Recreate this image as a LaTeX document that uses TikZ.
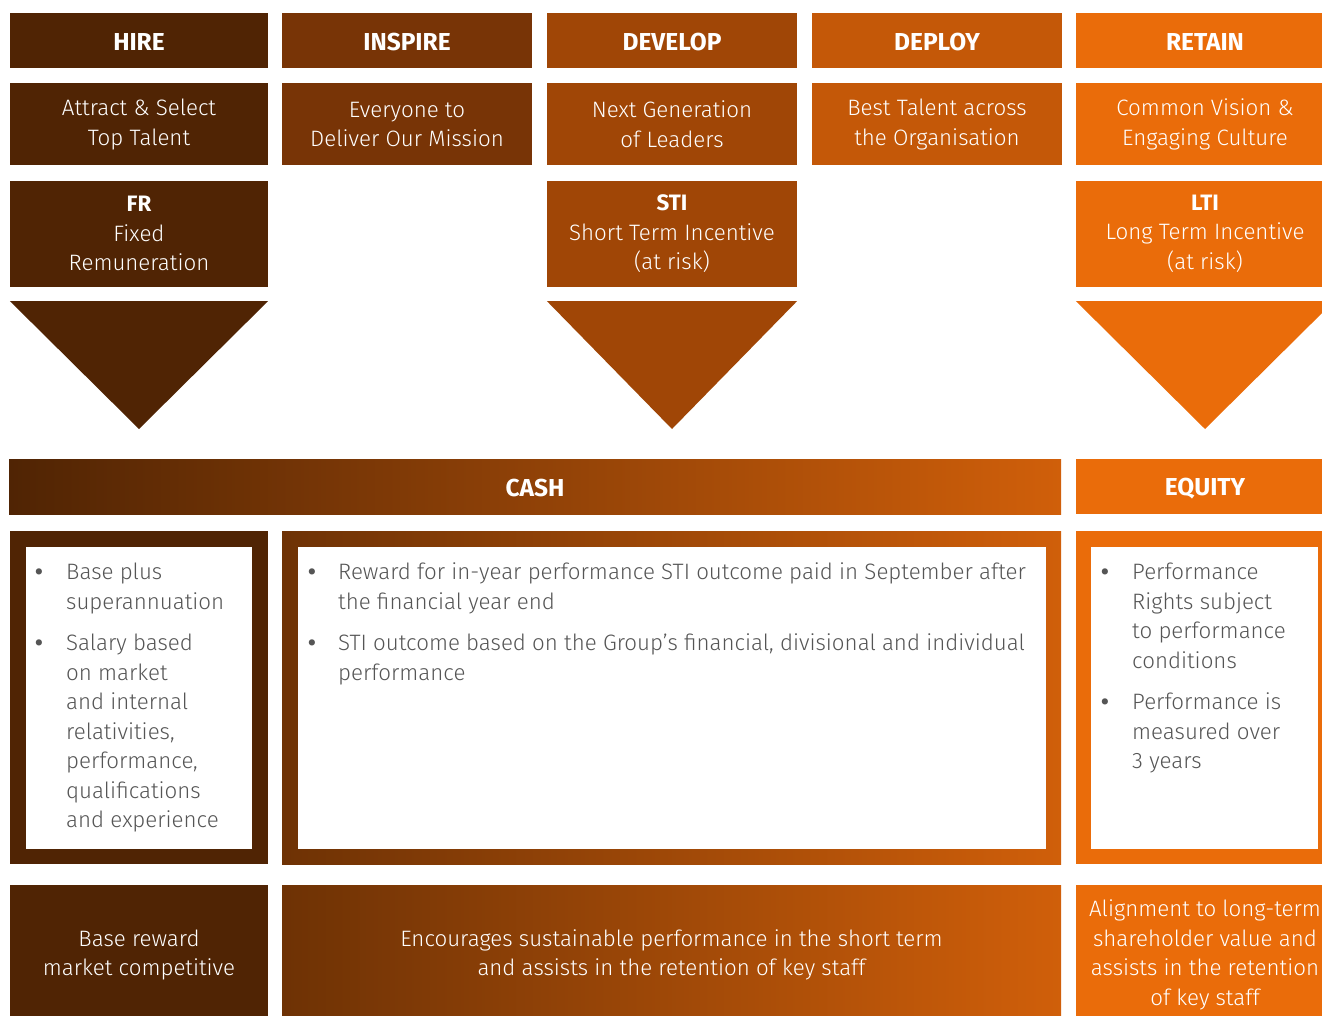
\documentclass[tikz,border=0pt]{standalone}
\usepackage{fontspec}
\setmainfont{Fira Sans}[UprightFont={* Light}, BoldFont={* Bold}]
\usetikzlibrary{positioning}

\definecolor{hire}{RGB}{80,36,4}
\definecolor{inspire}{RGB}{120,52,6}
\definecolor{develop}{RGB}{160,70,6}
\definecolor{deploy}{RGB}{196,88,8}
\definecolor{retain}{RGB}{234,108,10}
\definecolor{cashend}{RGB}{208,95,10}
\definecolor{framestart}{RGB}{110,50,5}
\definecolor{bodygray}{RGB}{85,85,85}

\newcommand{\bodyfont}{\fontsize{22.3}{29.5}\selectfont}
\newcommand{\dotmark}{\textbf{\textbullet}}

\begin{document}
\begin{tikzpicture}[x=1pt, y=-1pt,
	every node/.style={text=white, inner sep=0pt},
	head/.style={font=\fontsize{24.5}{26}\selectfont\bfseries, minimum height=55pt, text height=21pt},
	aim/.style={font=\bodyfont, align=center, minimum height=82pt},
	plan/.style={font=\bodyfont, align=center, minimum height=106pt},
	frame/.style={minimum height=333pt},
	inner/.style={fill=white, minimum height=302pt},
	bullets/.style={anchor=north west, text=bodygray, font=\bodyfont},
	note/.style={font=\bodyfont, align=center, minimum height=140pt}]

	\useasboundingbox (0,0) rectangle (1322,1016);

	% header row
	\foreach \l/\c/\x/\w [count=\i] in {HIRE/hire/139/258, INSPIRE/inspire/407/250, DEVELOP/develop/672/250, DEPLOY/deploy/937/250, RETAIN/retain/1205/258}
		\node [head, fill=\c, minimum width=\w pt] (head-\i) at (\x,40.5) {\l};

	% aims row
	\foreach \l/\c/\w [count=\i] in {{Attract \& Select\\Top Talent}/hire/258, {Everyone to\\Deliver Our Mission}/inspire/250, {Next Generation\\of Leaders}/develop/250, {Best Talent across\\the Organisation}/deploy/250, {Common Vision \&\\Engaging Culture}/retain/258}
		\node [aim, fill=\c, minimum width=\w pt, below=15pt of head-\i] (aim-\i) {\l};

	% reward elements
	\node [plan, fill=hire, minimum width=258pt, below=15pt of aim-1] (plan-1) {\textbf{FR}\\Fixed\\Remuneration};
	\node [plan, fill=develop, minimum width=250pt, below=15pt of aim-3] (plan-3) {\textbf{STI}\\Short Term Incentive\\(at risk)};
	\node [plan, fill=retain, minimum width=258pt, below=15pt of aim-5] (plan-5) {\textbf{LTI}\\Long Term Incentive\\(at risk)};

	% arrows down
	\foreach \i/\c in {1/hire, 3/develop, 5/retain}
		\fill [\c] ([yshift=-14pt]plan-\i.south west) -- ([yshift=-14pt]plan-\i.south east) -- ([yshift=-142pt]plan-\i.south) -- cycle;

	% cash and equity
	\node [head, left color=hire, right color=cashend, minimum width=1052pt] (cash) at (535,486.5) {CASH};
	\node [head, fill=retain, minimum width=258pt] (equity) at (1205,486.5) {EQUITY};

	% frames
	\node [frame, fill=hire, minimum width=258pt] (fr-frame) at (139,697.5) {};
	\node [inner, minimum width=226pt] (fr-inner) at (fr-frame) {};
	\node [frame, left color=framestart, right color=cashend, minimum width=779pt] (sti-frame) at (671.5,697.5) {};
	\node [inner, minimum width=748pt] (sti-inner) at (672,697.5) {};
	\node [frame, fill=retain, minimum width=258pt] (lti-frame) at (1205,697.5) {};
	\node [inner, minimum width=227pt] (lti-inner) at (1204.5,697.5) {};

	% bullet lists
	\node [bullets] (fr-list) at (35,559) {\begin{tabular}{@{}p{31pt}@{}l@{}}
		\dotmark & Base plus\\ & superannuation\\[12pt]
		\dotmark & Salary based\\ & on market\\ & and internal\\ & relativities,\\ & performance,\\ & qualifications\\ & and experience
	\end{tabular}};
	\node [bullets] (sti-list) at (308,559) {\begin{tabular}{@{}p{30pt}@{}l@{}}
		\dotmark & Reward for in-year performance STI outcome paid in September after\\ & the financial year end\\[12pt]
		\dotmark & STI outcome based on the Group’s financial, divisional and individual\\ & performance
	\end{tabular}};
	\node [bullets] (lti-list) at (1101,559) {\begin{tabular}{@{}p{31pt}@{}l@{}}
		\dotmark & Performance\\ & Rights subject\\ & to performance\\ & conditions\\[12pt]
		\dotmark & Performance is\\ & measured over\\ & 3 years
	\end{tabular}};

	% purpose row
	\node [note, fill=hire, minimum width=258pt] (fr-note) at (139,955) {Base reward\\market competitive};
	\node [note, left color=framestart, right color=cashend, minimum width=779pt] (sti-note) at (671.5,955) {Encourages sustainable performance in the short term\\and assists in the retention of key staff};
	\node [note, fill=retain, minimum width=258pt] (lti-note) at (1205,955) {Alignment to long-term\\shareholder value and\\assists in the retention\\of key staff};

\end{tikzpicture}
\end{document}
